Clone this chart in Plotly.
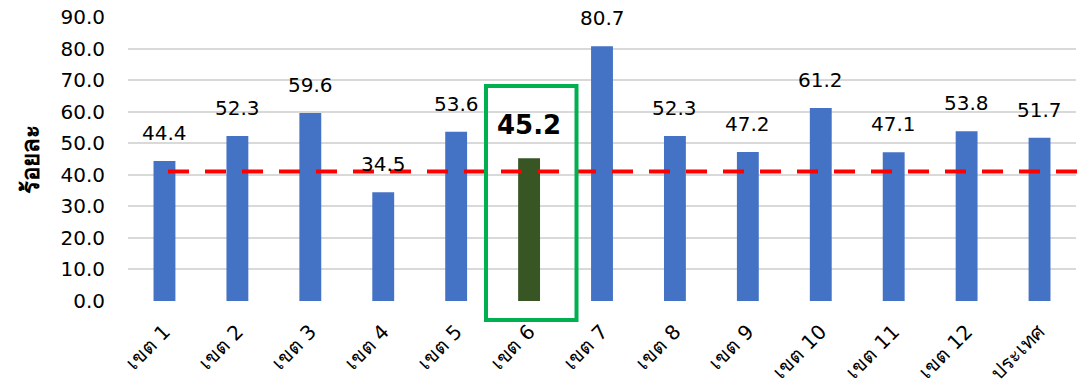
import plotly.graph_objects as go

categories = ["เขต 1", "เขต 2", "เขต 3", "เขต 4", "เขต 5", "เขต 6", "เขต 7",
              "เขต 8", "เขต 9", "เขต 10", "เขต 11", "เขต 12", "ประเทศ"]
values = [44.4, 52.3, 59.6, 34.5, 53.6, 45.2, 80.7, 52.3, 47.2, 61.2, 47.1, 53.8, 51.7]
highlight = "เขต 6"
target = 41.0
y_ticks = [0, 10, 20, 30, 40, 50, 60, 70, 80, 90]

BLUE = "#4472C4"
DARK_GREEN = "#375623"
FONT = "DejaVu Sans"

colors = [DARK_GREEN if c == highlight else BLUE for c in categories]

fig = go.Figure()
fig.add_trace(go.Bar(x=categories, y=values, marker=dict(color=colors, line=dict(width=0)),
                     hoverinfo="skip"))

for c, v in zip(categories, values):
    hl = c == highlight
    fig.add_annotation(x=c, y=v, xref="x", yref="y", text=f"<b>{v:.1f}</b>" if hl else f"{v:.1f}",
                       showarrow=False, yanchor="bottom", yshift=16 if hl else 14,
                       font=dict(family=FONT, size=26 if hl else 20, color="#000000"))

# plot area in pixels: left 128, right 1076, top 17, bottom 301
W, H = 1089, 388
L, R, T, B = 128, 1076, 17, 301

def px(xpix):
    return (xpix - L) / (R - L)

def py(ypix):
    return (B - ypix) / (B - T)

fig.add_shape(type="line", xref="paper", yref="y", x0=px(168), x1=px(1082), y0=target, y1=target,
              line=dict(color="#FF0000", width=4, dash="21px,16px"), layer="above")
fig.add_shape(type="rect", xref="paper", yref="paper", x0=px(486), x1=px(576.5), y0=py(320), y1=py(86),
              line=dict(color="#00B050", width=4), fillcolor="rgba(0,0,0,0)", layer="above")

fig.update_layout(
    width=W, height=H,
    margin=dict(l=L, r=W - R, t=T, b=H - B, pad=0),
    paper_bgcolor="white", plot_bgcolor="white",
    bargap=0.7, showlegend=False,
    font=dict(family=FONT, size=20, color="#000000"),
)
fig.update_xaxes(tickangle=-45, tickfont=dict(family=FONT, size=20), showgrid=False,
                 showline=False, ticks="", ticklabelstandoff=14, automargin=False,
                 range=[-0.5, len(categories) - 0.5])
fig.update_yaxes(range=[0, 90], tickvals=y_ticks, ticktext=[f"{t:.1f}" for t in y_ticks],
                 tickfont=dict(family=FONT, size=20), showgrid=True, gridcolor="#D9D9D9",
                 gridwidth=2, zeroline=False, showline=False, ticks="", ticklen=0,
                 ticklabelstandoff=22, automargin=False,
                 title=dict(text="<b>ร้อยละ</b>", font=dict(family=FONT, size=24), standoff=14))

fig.write_html("out.html")
